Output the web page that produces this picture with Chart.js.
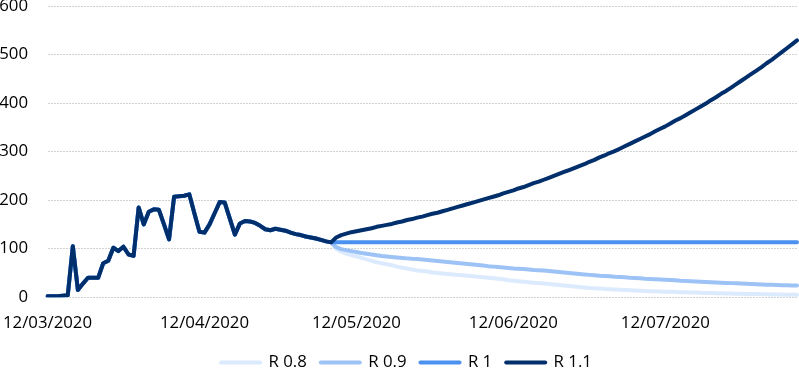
<!DOCTYPE html>
<html>
<head>
<meta charset="utf-8">
<script src="https://cdn.jsdelivr.net/npm/chart.js@4.4.1/dist/chart.umd.min.js"></script>
<style>
  html, body { margin: 0; padding: 0; background: #fff; }
  #wrap { width: 799px; height: 368px; position: relative; }
</style>
</head>
<body>
<div id="wrap"><canvas id="r-chart"></canvas></div>
<script>
const startDate = [2020, 3, 12];
const dayCount = 149;
const tickLabels = ['12/03/2020', '12/04/2020', '12/05/2020', '12/06/2020', '12/07/2020'];

// observed values 12/03 - 07/05, shared by every scenario
const history = [
  2, 2, 2, 3, 4, 105, 15, 28, 40, 40,
  40, 70, 75, 102, 95, 104, 88, 85, 185, 150,
  176, 181, 180, 150, 119, 207, 208, 209, 212, 173,
  135, 133, 150, 173, 196, 195, 162, 129, 152, 157,
  156, 153, 147, 140, 138, 141, 139, 137, 133, 130,
  128, 125, 123, 121, 118, 115, 113
];

const projR08 = [
  100, 94, 90, 87, 84, 81, 78, 75, 72, 70,
  68, 66, 63, 61, 59, 57, 55, 54, 53, 51,
  50, 49, 48, 47, 46, 45, 44, 43, 42, 41,
  40, 39, 38, 37, 35, 34, 33, 32, 31, 30,
  29, 28, 27, 26, 25, 24, 23, 22, 21, 20,
  19, 18.5, 18, 17, 16.5, 16, 15.5, 15, 14.5, 14,
  13.5, 13, 12.5, 12, 11.7, 11.3, 11, 10.7, 10.4, 10.1,
  9.8, 9.5, 9.2, 8.9, 8.6, 8.3, 8, 7.8, 7.5, 7.3,
  7, 6.8, 6.6, 6.4, 6.2, 6, 5.8, 5.6, 5.4, 5.2,
  5, 4.8
];

const projR09 = [
  103, 99, 97, 95, 93, 91, 89.5, 88, 86.5, 85,
  84, 83, 82, 81, 80, 79, 78.5, 77.5, 76.5, 75.5,
  74.5, 73.5, 72.5, 71.5, 70.5, 69.5, 68.5, 67.5, 66.5, 65.5,
  64, 63, 62, 61, 60, 59, 58.5, 58, 57, 56,
  55.5, 55, 54, 53, 52, 51, 50, 49, 48, 47,
  46, 45, 44, 43.5, 43, 42, 41.5, 41, 40, 39.5,
  39, 38, 37.5, 37, 36.5, 36, 35.5, 35, 34, 33.5,
  33, 32.5, 32, 31.5, 31, 30.5, 30, 29.5, 29, 28.5,
  28, 27.5, 27, 26.5, 26.2, 25.8, 25.5, 25.2, 24.8, 24.5,
  24.2, 24
];

const projR1 = [
  113, 113, 113, 113, 113, 113, 113, 113, 113, 113,
  113, 113, 113, 113, 113, 113, 113, 113, 113, 113,
  113, 113, 113, 113, 113, 113, 113, 113, 113, 113,
  113, 113, 113, 113, 113, 113, 113, 113, 113, 113,
  113, 113, 113, 113, 113, 113, 113, 113, 113, 113,
  113, 113, 113, 113, 113, 113, 113, 113, 113, 113,
  113, 113, 113, 113, 113, 113, 113, 113, 113, 113,
  113, 113, 113, 113, 113, 113, 113, 113, 113, 113,
  113, 113, 113, 113, 113, 113, 113, 113, 113, 113,
  113, 113
];

const projR11 = [
  123, 128, 131, 134, 136, 138, 140, 142, 145, 147,
  149, 151, 154, 156, 159, 161, 164, 166, 169, 172,
  174, 177, 180, 183, 186, 189, 192, 195, 198, 201,
  204, 207, 210, 214, 217, 220, 224, 227, 231, 235,
  238, 242, 246, 250, 254, 258, 262, 266, 270, 274,
  279, 283, 288, 292, 297, 301, 306, 311, 316, 321,
  326, 331, 336, 342, 347, 352, 358, 364, 369, 375,
  381, 387, 393, 399, 406, 412, 419, 425, 432, 439,
  446, 453, 460, 467, 474, 482, 489, 497, 505, 513,
  521, 529
];

const seriesNames = ['R 1.1', 'R 1', 'R 0.9', 'R 0.8'];
const seriesColors = ['#002F6C', '#4B91F0', '#9DC3F6', '#DCEAFE'];

function buildLabels() {
  let labels = [];
  let d = new Date(Date.UTC(startDate[0], startDate[1] - 1, startDate[2]));
  for (let i = 0; i < dayCount; i++) {
    let dd = String(d.getUTCDate()).padStart(2, '0');
    let mm = String(d.getUTCMonth() + 1).padStart(2, '0');
    labels.push(dd + '/' + mm + '/' + d.getUTCFullYear());
    d.setUTCDate(d.getUTCDate() + 1);
  }
  return labels;
}

// the legend in the original sits a bit right of the canvas centre
const legendShift = {
  id: 'legendShift',
  afterLayout(chart) {
    chart.legend.left += 16;
  }
};

function renderChart() {
  const projections = [projR11, projR1, projR09, projR08];
  const font = { family: 'Open Sans', size: 16.8 };

  const data = {
    labels: buildLabels(),
    datasets: seriesNames.map((name, i) => ({
      label: name,
      data: history.concat(projections[i]),
      borderColor: seriesColors[i],
      backgroundColor: seriesColors[i],
      borderWidth: 4,
      borderCapStyle: 'round',
      borderJoinStyle: 'round',
      pointRadius: 0,
      pointHoverRadius: 0,
      tension: 0,
      fill: false
    }))
  };

  const config = {
    type: 'line',
    data: data,
    plugins: [legendShift],
    options: {
      responsive: true,
      maintainAspectRatio: false,
      animation: false,
      layout: { padding: { top: 6, left: 0, right: 2, bottom: -13 } },
      scales: {
        x: {
          grid: { display: false, drawTicks: false },
          border: { display: false },
          ticks: {
            autoSkip: false,
            maxRotation: 0,
            padding: 16,
            color: '#000',
            font: font,
            callback: function (value) {
              let label = this.getLabelForValue(value);
              return tickLabels.includes(label) ? label : null;
            }
          },
          afterFit: (scale) => {
            scale.height = 43;
            scale.paddingLeft = 0;
            scale.paddingRight = 0;
          }
        },
        y: {
          min: 0,
          max: 600,
          grid: { color: '#d2d2d2', lineWidth: 1, drawTicks: false },
          border: { display: false, dash: [2, 1] },
          ticks: { stepSize: 100, padding: 19.5, color: '#000', font: font },
          afterFit: (scale) => {
            scale.width = 47.5;
            scale.paddingTop = 0;
            scale.paddingBottom = 0;
          }
        }
      },
      plugins: {
        tooltip: { enabled: false },
        legend: {
          position: 'bottom',
          reverse: true,
          labels: {
            usePointStyle: true,
            pointStyle: 'line',
            pointStyleWidth: 39,
            padding: 14,
            color: '#000',
            font: font,
            generateLabels: (chart) => {
              let items = Chart.defaults.plugins.legend.labels.generateLabels(chart);
              items.forEach(it => {
                it.lineCap = 'round';
                it.lineWidth = 4;
                it.strokeStyle = seriesColors[it.datasetIndex];
              });
              return items;
            }
          }
        }
      }
    }
  };

  const rChart = new Chart(document.getElementById('r-chart'), config);
}

renderChart();
</script>
</body>
</html>
